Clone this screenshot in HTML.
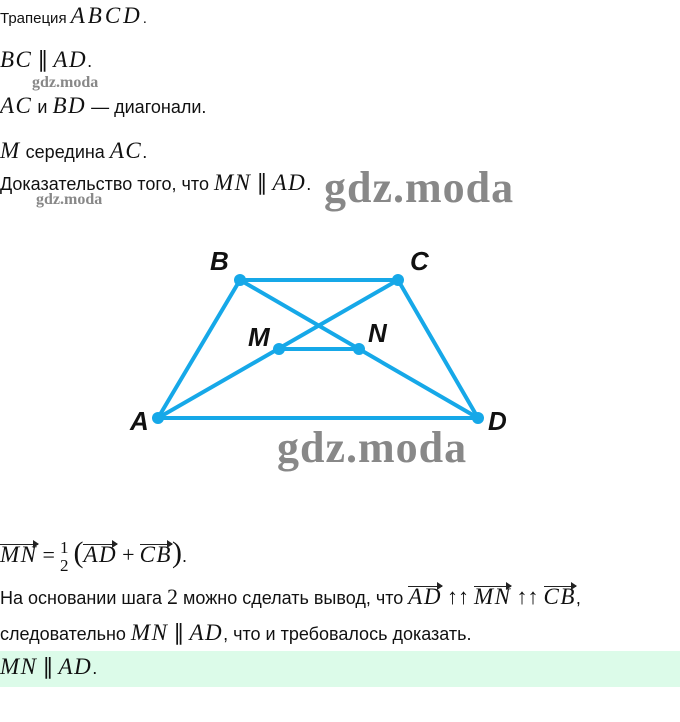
<!DOCTYPE html>
<html><head><meta charset="utf-8"><style>
body{margin:0;width:680px;height:722px;background:#fff;position:relative;overflow:hidden;font-family:"Liberation Sans",sans-serif;color:#111}
.t{position:absolute;left:0;font-size:18px;white-space:nowrap}
.m{font-family:"Liberation Serif",serif;font-style:italic;font-size:23px;letter-spacing:1.5px;font-weight:normal}
.r{font-family:"Liberation Serif",serif;font-size:22px}
.wm{position:absolute;font-family:"Liberation Serif",serif;font-weight:bold;color:#888;white-space:nowrap}
.v{position:relative;display:inline-block}
.v:before{content:"";position:absolute;left:0;right:0;top:2px;border-top:1px solid #222}
.v:after{content:"";position:absolute;right:-1px;top:-2px;border-left:6px solid #222;border-top:4px solid transparent;border-bottom:4px solid transparent}
</style></head><body>
<div class="t" style="top:3px;font-size:15px">Трапеция <span class="m" style="letter-spacing:3px">ABCD</span>.</div>
<div class="t" style="top:47px"><span class="m">BC</span> <span class="r">∥</span> <span class="m">AD</span>.</div>
<div class="wm" style="left:32px;top:74px;font-size:16px">gdz.moda</div>
<div class="t" style="top:93px"><span class="m">AC</span> и <span class="m">BD</span> — диагонали.</div>
<div class="t" style="top:138px"><span class="m">M</span> середина <span class="m">AC</span>.</div>
<div class="t" style="top:170px">Доказательство того, что <span class="m">MN</span> <span class="r">∥</span> <span class="m">AD</span>.</div>
<div class="wm" style="left:36px;top:191px;font-size:16px">gdz.moda</div>
<div class="wm" style="left:324px;top:162px;font-size:44px;letter-spacing:1px">gdz.moda</div>
<svg style="position:absolute;left:0;top:0" width="680" height="722">
<g stroke="#16a8e8" stroke-width="4" fill="none">
<path d="M158 418 L240 280 L398 280 L478 418 Z"/>
<path d="M158 418 L398 280 M240 280 L478 418 M279 349 L359 349"/>
</g>
<g fill="#16a8e8"><circle cx="158" cy="418" r="6"/><circle cx="240" cy="280" r="6"/><circle cx="398" cy="280" r="6"/><circle cx="478" cy="418" r="6"/><circle cx="279" cy="349" r="6"/><circle cx="359" cy="349" r="6"/></g>
<g font-family="Liberation Sans,sans-serif" font-weight="bold" font-style="italic" font-size="26" fill="#111">
<text x="210" y="270">B</text><text x="410" y="270">C</text><text x="130" y="430">A</text><text x="488" y="430">D</text><text x="248" y="346">M</text><text x="368" y="342">N</text>
</g>
</svg>
<div class="wm" style="left:277px;top:422px;font-size:44px;letter-spacing:1px">gdz.moda</div>
<div class="t" style="top:536px"><span class="m v">MN</span> <span class="r">=</span> <span class="r" style="display:inline-block;font-size:17px;vertical-align:middle;text-align:center;line-height:18px">1<br>2</span> <span class="r" style="font-size:30px">(</span><span class="m v">AD</span> <span class="r">+</span> <span class="m v">CB</span><span class="r" style="font-size:30px">)</span>.</div>
<div class="t" style="top:584px">На основании шага <span class="r">2</span> можно сделать вывод, что <span class="m v">AD</span> <span class="r">↑↑</span> <span class="m v">MN</span> <span class="r">↑↑</span> <span class="m v">CB</span>,</div>
<div class="t" style="top:620px">следовательно <span class="m">MN</span> <span class="r">∥</span> <span class="m">AD</span>, что и требовалось доказать.</div>
<div style="position:absolute;left:0;top:651px;width:680px;height:36px;background:#dcfbe9"></div>
<div class="t" style="top:654px"><span class="m">MN</span> <span class="r">∥</span> <span class="m">AD</span>.</div>
</body></html>
